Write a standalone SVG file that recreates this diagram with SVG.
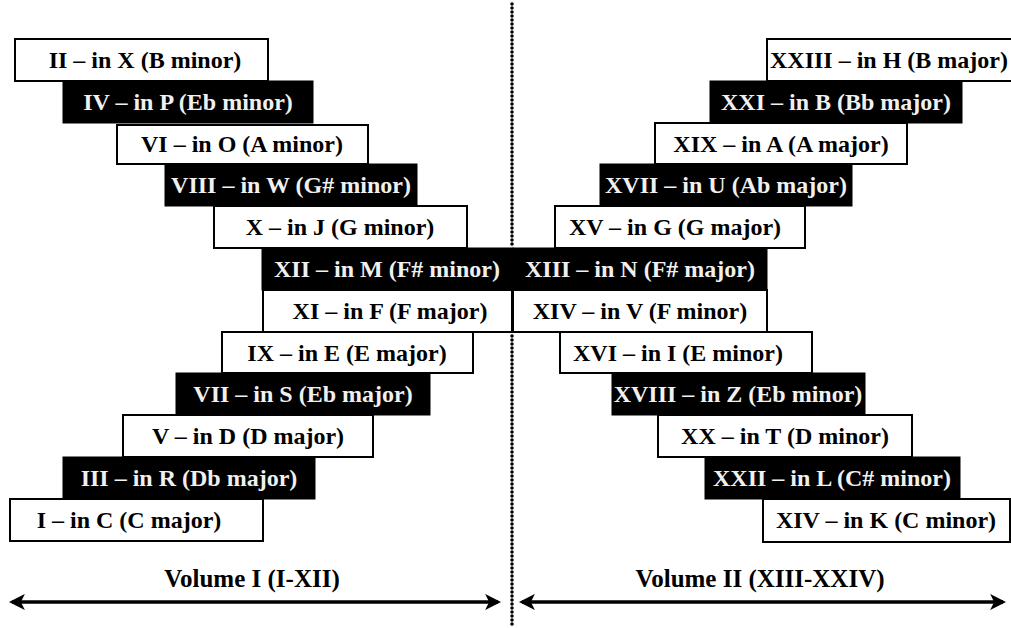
<svg xmlns="http://www.w3.org/2000/svg" width="1011" height="628" viewBox="0 0 1011 628">
<style>
text{font-family:"Liberation Serif","Times New Roman",serif;font-weight:bold;font-size:24px;text-anchor:middle}
.w rect{fill:#fff;stroke:#000;stroke-width:2}
.w text{fill:#000}
.b rect{fill:#000;stroke:#000;stroke-width:1}
.b text{fill:#f0f0f0}
.lbl{font-size:25px}
.dots{stroke:#000;stroke-width:3.5;stroke-linecap:round;stroke-dasharray:0 4;fill:none}
.arr{stroke:#000;stroke-width:3.5;fill:none}
</style>
<defs>
<marker id="ah" viewBox="0 0 10 10" refX="8" refY="5" markerWidth="4.6" markerHeight="4.6" orient="auto-start-reverse" markerUnits="strokeWidth">
<path d="M0,0 L10,5 L0,10 L2.5,5 Z" fill="#000"/>
</marker>
</defs>
<g id="connectors">
<line class="dots" x1="512" y1="4" x2="512" y2="246"/>
<line class="dots" x1="512" y1="336" x2="512" y2="626"/>
<line class="arr" x1="12" y1="602" x2="498" y2="602" marker-start="url(#ah)" marker-end="url(#ah)"/>
<line class="arr" x1="522" y1="602" x2="1003" y2="602" marker-start="url(#ah)" marker-end="url(#ah)"/>
</g>
<g id="n2" class="w"><rect x="15" y="39" width="253" height="42"/><text x="145" y="68">II – in X (B minor)</text></g>
<g id="n4" class="b"><rect x="63" y="81" width="250" height="42"/><text x="188" y="110">IV – in P (Eb minor)</text></g>
<g id="n6" class="w"><rect x="117" y="125" width="251" height="39"/><text x="242" y="152">VI – in O (A minor)</text></g>
<g id="n8" class="b"><rect x="165" y="164" width="252" height="42"/><text x="291" y="193">VIII – in W (G# minor)</text></g>
<g id="n10" class="w"><rect x="214" y="206" width="253" height="42"/><text x="340" y="235">X – in J (G minor)</text></g>
<g id="n12" class="b"><rect x="262" y="248" width="251" height="42"/><text x="387" y="277">XII – in M (F# minor)</text></g>
<g id="n11" class="w"><rect x="263" y="290" width="249" height="42"/><text x="390" y="319">XI – in F (F major)</text></g>
<g id="n9" class="w"><rect x="222" y="332" width="251" height="41"/><text x="347" y="361">IX – in E (E major)</text></g>
<g id="n7" class="b"><rect x="176" y="373" width="254" height="42"/><text x="303" y="402">VII – in S (Eb major)</text></g>
<g id="n5" class="w"><rect x="123" y="415" width="250" height="42"/><text x="248" y="444">V – in D (D major)</text></g>
<g id="n3" class="b"><rect x="63" y="457" width="252" height="42"/><text x="189" y="486">III – in R (Db major)</text></g>
<g id="n1" class="w"><rect x="10" y="499" width="253" height="42"/><text x="129" y="528">I – in C (C major)</text></g>
<g id="n23" class="w"><rect x="767" y="39" width="250" height="42"/><text x="889" y="68">XXIII – in H (B major)</text></g>
<g id="n21" class="b"><rect x="710" y="81" width="252" height="42"/><text x="836" y="110">XXI – in B (Bb major)</text></g>
<g id="n19" class="w"><rect x="655" y="123" width="252" height="41"/><text x="781" y="152">XIX – in A (A major)</text></g>
<g id="n17" class="b"><rect x="600" y="164" width="252" height="42"/><text x="726" y="193">XVII – in U (Ab major)</text></g>
<g id="n15" class="w"><rect x="555" y="206" width="250" height="42"/><text x="675" y="235">XV – in G (G major)</text></g>
<g id="n13" class="b"><rect x="513" y="248" width="254" height="42"/><text x="640" y="277">XIII – in N (F# major)</text></g>
<g id="n14" class="w"><rect x="513" y="290" width="254" height="42"/><text x="640" y="319">XIV – in V (F minor)</text></g>
<g id="n16" class="w"><rect x="560" y="332" width="252" height="41"/><text x="678" y="361">XVI – in I (E minor)</text></g>
<g id="n18" class="b"><rect x="612" y="373" width="253" height="42"/><text x="738" y="402">XVIII – in Z (Eb minor)</text></g>
<g id="n20" class="w"><rect x="658" y="415" width="254" height="42"/><text x="785" y="444">XX – in T (D minor)</text></g>
<g id="n22" class="b"><rect x="705" y="457" width="255" height="42"/><text x="832" y="486">XXII – in L (C# minor)</text></g>
<g id="n24" class="w"><rect x="763" y="499" width="247" height="43"/><text x="886" y="528">XIV – in K (C minor)</text></g>
<g id="labels">
<text class="lbl" x="252" y="587">Volume I (I-XII)</text>
<text class="lbl" x="760" y="587">Volume II (XIII-XXIV)</text>
</g>
</svg>
